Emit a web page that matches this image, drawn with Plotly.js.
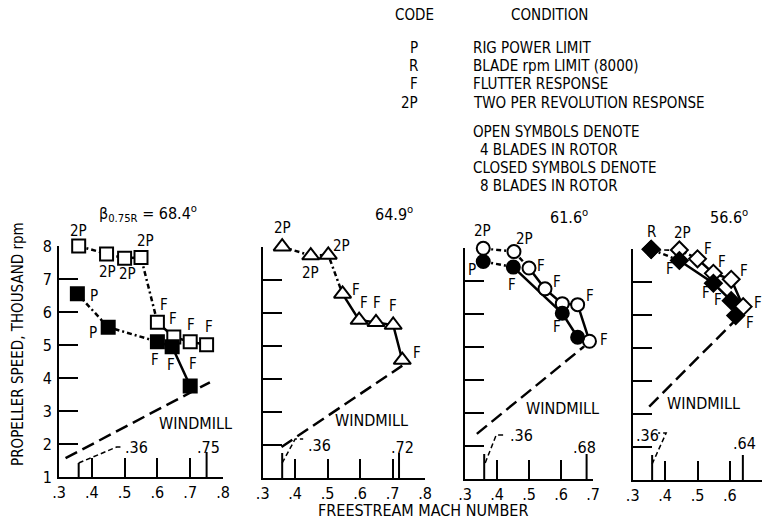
<!DOCTYPE html>
<html>
<head>
<meta charset="utf-8">
<script src="https://cdn.plot.ly/plotly-3.0.1.min.js"></script>
<style>
  html, body { margin: 0; padding: 0; background: #fff; }
  #chart { width: 768px; height: 524px; }
</style>
</head>
<body>
<div id="chart"></div>
<script>
// ---- axis ticks ----
const machTicksWide = [0.3, 0.4, 0.5, 0.6, 0.7, 0.8];
const machLabelsWide = ['.3', '.4', '.5', '.6', '.7', '.8'];
const machTicksNarrow = [0.3, 0.4, 0.5, 0.6, 0.7];
const machLabelsNarrow = ['.3', '.4', '.5', '.6', '.7'];
const speedTicks = [1, 2, 3, 4, 5, 6, 7, 8];
const speedLabels = ['1', '2', '3', '4', '5', '6', '7', '8'];

// ---- blade angle at 0.75 radius for each panel ----
const bladeAngles = ['68.4', '64.9', '61.6', '56.6'];

// ---- panel 1 (68.4 deg), squares ----
const p1OpenMach = [0.36, 0.445, 0.50, 0.55, 0.60, 0.65, 0.70, 0.75];
const p1OpenRpm = [8.0, 7.76, 7.63, 7.65, 5.69, 5.24, 5.10, 5.01];
const p1OpenCode = ['2P', '2P', '2P', '2P', 'F', 'F', 'F', 'F'];
const p1ClosedMach = [0.356, 0.45, 0.60, 0.645, 0.70];
const p1ClosedRpm = [6.55, 5.54, 5.10, 4.95, 3.76];
const p1ClosedCode = ['P', 'P', 'F', 'F', 'F'];
const p1WindmillMach = [0.32, 0.76];
const p1WindmillRpm = [1.57, 3.87];
const p1WindmillLimits = [0.36, 0.75];

// ---- panel 2 (64.9 deg), triangles ----
const p2OpenMach = [0.36, 0.448, 0.502, 0.546, 0.597, 0.649, 0.702, 0.73];
const p2OpenRpm = [8.0, 7.73, 7.75, 6.57, 5.78, 5.71, 5.63, 4.57];
const p2OpenCode = ['2P', '2P', '2P', 'F', 'F', 'F', 'F', 'F'];
const p2ClosedMach = [];
const p2ClosedRpm = [];
const p2ClosedCode = [];
const p2WindmillMach = [0.358, 0.73];
const p2WindmillRpm = [1.94, 4.40];
const p2WindmillLimits = [0.36, 0.72];

// ---- panel 3 (61.6 deg), circles ----
const p3OpenMach = [0.357, 0.453, 0.50, 0.55, 0.604, 0.652, 0.689];
const p3OpenRpm = [8.0, 7.9, 7.4, 6.77, 6.32, 6.29, 5.18];
const p3OpenCode = ['2P', '2P', 'F', 'F', '', 'F', 'F'];
const p3ClosedMach = [0.357, 0.451, 0.604, 0.652];
const p3ClosedRpm = [7.6, 7.43, 6.03, 5.30];
const p3ClosedCode = ['P', 'F', 'F', ''];
const p3WindmillMach = [0.337, 0.672];
const p3WindmillRpm = [2.37, 5.02];
const p3WindmillLimits = [0.36, 0.68];

// ---- panel 4 (56.6 deg), diamonds ----
const p4OpenMach = [0.357, 0.444, 0.50, 0.549, 0.604, 0.641];
const p4OpenRpm = [8.0, 7.98, 7.71, 7.27, 7.09, 6.26];
const p4OpenCode = ['R', '2P', 'F', 'F', 'F', 'F'];
const p4ClosedMach = [0.357, 0.444, 0.549, 0.604, 0.618];
const p4ClosedRpm = [8.0, 7.66, 6.97, 6.44, 5.99];
const p4ClosedCode = ['R', 'F', 'F', 'F', 'F'];
const p4WindmillMach = [0.351, 0.618];
const p4WindmillRpm = [3.23, 5.86];
const p4WindmillLimits = [0.36, 0.64];

// ---- legend text ----
const legendCodes = ['P', 'R', 'F', '2P'];
const legendConditions = ['RIG POWER LIMIT', 'BLADE rpm LIMIT (8000)', 'FLUTTER RESPONSE', 'TWO PER REVOLUTION RESPONSE'];
const legendNotes = ['OPEN SYMBOLS DENOTE', '  4 BLADES IN ROTOR', 'CLOSED SYMBOLS DENOTE', '  8 BLADES IN ROTOR'];

// ================= drawing =================
const W = 768, H = 524;
const FONT = 'Liberation Sans Narrow, Arial Narrow, DejaVu Sans Condensed, sans-serif';
const INK = '#000';
const px = v => v / W;          // horizontal pixel -> paper
const py = v => (H - v) / H;    // vertical pixel (from top) -> paper

// codes whose outgoing connector is drawn dotted
const LEAD_CODES = ['P', '2P', 'R'];

// label offsets (pixels: right, down) for each point's code label
const labelShift = {
  p1Open: [[0, -15], [1, 18], [3, 16], [4, -17], [7, -17], [-1, -18], [1, -17], [2, -18]],
  p1Closed: [[17, 2], [-15, 6], [-2, 18], [-1, 18], [3, -22]],
  p2Open: [[0, -19], [0, 17], [13, -9], [13, -4], [5, -17], [1, -19], [0, -19], [15, -7]],
  p2Closed: [],
  p3Open: [[-1, -17], [11, -13], [12, -2], [12, -7], [0, 0], [12, -9], [15, -1]],
  p3Closed: [[-11, 9], [-1, 18], [-5, 14], [0, 0]],
  p4Open: [[0, -17], [3, -17], [10, -10], [9, -11], [13, -8], [15, -4]],
  p4Closed: [[0, -17], [-9, 8], [-7, 10], [-13, -1], [14, 7]]
};

const panels = [
  { key: 'p1', symbol: 'square', size: 13,
    open: [p1OpenMach, p1OpenRpm, p1OpenCode], closed: [p1ClosedMach, p1ClosedRpm, p1ClosedCode],
    windmill: [p1WindmillMach, p1WindmillRpm], limits: p1WindmillLimits,
    ticks: [machTicksWide, machLabelsWide], xRange: [0.3, 0.8],
    xPix: [59, 223], yPix: [246, 477],
    leader: 'M0,14 L38,30 L44,30', lowLabel: [58, 30], highLabel: [1.5, 30], lowTick: 14,
    windmillText: [195, 423] },
  { key: 'p2', symbol: 'triangle-up', size: 15,
    open: [p2OpenMach, p2OpenRpm, p2OpenCode], closed: [p2ClosedMach, p2ClosedRpm, p2ClosedCode],
    windmill: [p2WindmillMach, p2WindmillRpm], limits: p2WindmillLimits,
    ticks: [machTicksWide, machLabelsWide], xRange: [0.3, 0.8],
    xPix: [262.7, 425], yPix: [246.7, 478],
    leader: 'M0,15 L13,39 L21,39', lowLabel: [37, 33], highLabel: [3, 31], lowTick: 25,
    windmillText: [371, 420] },
  { key: 'p3', symbol: 'circle', size: 13,
    open: [p3OpenMach, p3OpenRpm, p3OpenCode], closed: [p3ClosedMach, p3ClosedRpm, p3ClosedCode],
    windmill: [p3WindmillMach, p3WindmillRpm], limits: p3WindmillLimits,
    ticks: [machTicksNarrow, machLabelsNarrow], xRange: [0.3, 0.7],
    xPix: [465, 593], yPix: [248.3, 479],
    leader: 'M1,16 L12,44 L21,44', lowLabel: [37, 44], highLabel: [-2, 32], lowTick: 25,
    windmillText: [562, 408] },
  { key: 'p4', symbol: 'diamond', size: 13,
    open: [p4OpenMach, p4OpenRpm, p4OpenCode], closed: [p4ClosedMach, p4ClosedRpm, p4ClosedCode],
    windmill: [p4WindmillMach, p4WindmillRpm], limits: p4WindmillLimits,
    ticks: [machTicksNarrow, machLabelsNarrow], xRange: [0.3, 0.7],
    xPix: [632.7, 762.3], yPix: [249.3, 480],
    leader: 'M0,16 L14,47 L6,47', lowLabel: [-5, 45], highLabel: [2, 37], lowTick: 25,
    windmillText: [703, 403] }
];

const titlePos = [[97, 213], [373, 214], [548, 216], [708, 216]];

const traces = [];
const layout = {
  width: W, height: H,
  margin: { l: 0, r: 0, t: 0, b: 0 },
  paper_bgcolor: '#fff', plot_bgcolor: 'rgba(0,0,0,0)',
  showlegend: false,
  font: { family: FONT, color: INK, size: 15 },
  annotations: [], shapes: []
};

// free text placed by its centre (or a chosen horizontal anchor) in page pixels
function pageText(x, y, text, size, xanchor, extra) {
  return Object.assign({
    xref: 'paper', yref: 'paper', x: px(x), y: py(y),
    xanchor: xanchor || 'center', yanchor: 'middle',
    text: text, showarrow: false,
    font: { family: FONT, size: size, color: INK }
  }, extra || {});
}

function connectorTraces(mach, rpm, code, xa, ya) {
  const groups = [];
  let cur = null;
  for (let i = 0; i < mach.length - 1; i++) {
    const dotted = LEAD_CODES.includes(code[i]);
    if (!cur || cur.dotted !== dotted) {
      cur = { dotted, x: [mach[i]], y: [rpm[i]] };
      groups.push(cur);
    }
    cur.x.push(mach[i + 1]);
    cur.y.push(rpm[i + 1]);
  }
  return groups.map(g => ({
    type: 'scatter', mode: 'lines', x: g.x, y: g.y, xaxis: xa, yaxis: ya,
    cliponaxis: false, hoverinfo: 'skip',
    line: { color: INK, width: 2.5, dash: g.dotted ? '5px,3px,2px,3px' : 'solid' }
  }));
}

panels.forEach((p, k) => {
  const n = k === 0 ? '' : String(k + 1);
  const xa = 'x' + n, ya = 'y' + n;
  const xKey = 'xaxis' + n, yKey = 'yaxis' + n;

  layout[xKey] = {
    domain: [px(p.xPix[0]), px(p.xPix[1])], range: p.xRange, anchor: ya,
    showline: true, linewidth: 2, linecolor: INK, mirror: false,
    ticks: 'inside', ticklen: 19, tickwidth: 2, tickcolor: INK,
    tickmode: 'array', tickvals: p.ticks[0], ticktext: p.ticks[1],
    tickfont: { family: FONT, size: 16, color: INK },
    showgrid: false, zeroline: false, fixedrange: true
  };
  layout[yKey] = {
    domain: [py(p.yPix[1]), py(p.yPix[0])], range: [1, 8], anchor: xa,
    showline: true, linewidth: 2, linecolor: INK,
    ticks: 'inside', ticklen: 19, tickwidth: 2, tickcolor: INK,
    tickmode: 'array', tickvals: speedTicks, ticktext: speedLabels,
    showticklabels: k === 0, ticklabelstandoff: 2,
    tickfont: { family: FONT, size: 16, color: INK },
    showgrid: false, zeroline: false, fixedrange: true
  };

  // windmill line
  traces.push({
    type: 'scatter', mode: 'lines', x: p.windmill[0], y: p.windmill[1], xaxis: xa, yaxis: ya,
    cliponaxis: false, hoverinfo: 'skip',
    line: { color: INK, width: 2.5, dash: '13px,6px' }
  });

  // connectors then markers (4 blades open, 8 blades closed)
  [['open', p.open], ['closed', p.closed]].forEach(([kind, s]) => {
    if (!s[0].length) return;
    connectorTraces(s[0], s[1], s[2], xa, ya).forEach(t => traces.push(t));
  });
  [['open', p.open], ['closed', p.closed]].forEach(([kind, s]) => {
    if (!s[0].length) return;
    traces.push({
      type: 'scatter', mode: 'markers', x: s[0], y: s[1], xaxis: xa, yaxis: ya,
      cliponaxis: false, hoverinfo: 'skip',
      marker: {
        symbol: p.symbol, size: p.size,
        color: kind === 'open' ? '#fff' : INK,
        line: { color: INK, width: 2 }
      }
    });
  });

  // code labels beside the points
  const seen = new Set();
  [['Open', p.open], ['Closed', p.closed]].forEach(([kind, s]) => {
    const shifts = labelShift[p.key + kind];
    s[2].forEach((c, i) => {
      if (!c) return;
      const id = s[0][i] + '|' + s[1][i] + '|' + c;
      if (seen.has(id)) return;
      seen.add(id);
      layout.annotations.push({
        xref: xa, yref: ya, x: s[0][i], y: s[1][i], text: c, showarrow: false,
        xanchor: 'center', yanchor: 'middle',
        xshift: shifts[i][0], yshift: -shifts[i][1],
        font: { family: FONT, size: 15, color: INK }
      });
    });
  });

  // windmill Mach-number limit ticks and labels
  p.limits.forEach((m, j) => {
    layout.shapes.push({
      type: 'line', xref: xa, yref: ya, x0: m, x1: m,
      ysizemode: 'pixel', yanchor: 1, y0: 0, y1: j === 0 ? p.lowTick : 25,
      line: { color: INK, width: 2 }
    });
    const sh = j === 0 ? p.lowLabel : p.highLabel;
    layout.annotations.push({
      xref: xa, yref: ya, x: m, y: 1, text: '.' + String(Math.round(m * 100)),
      showarrow: false, xanchor: 'center', yanchor: 'middle',
      xshift: sh[0], yshift: sh[1],
      font: { family: FONT, size: 16, color: INK }
    });
  });
  layout.shapes.push({
    type: 'path', xref: xa, yref: ya,
    xsizemode: 'pixel', xanchor: p.limits[0], ysizemode: 'pixel', yanchor: 1,
    path: p.leader, line: { color: INK, width: 1.5, dash: '5px,3px' }
  });

  layout.annotations.push(pageText(p.windmillText[0], p.windmillText[1], 'WINDMILL', 16));

  const t = k === 0
    ? 'β<sub>0.75R</sub> = ' + bladeAngles[k] + '<sup>o</sup>'
    : bladeAngles[k] + '<sup>o</sup>';
  layout.annotations.push(pageText(titlePos[k][0], titlePos[k][1], t, 16, 'left'));
});

// axis titles
layout.annotations.push(pageText(18, 344, 'PROPELLER SPEED, THOUSAND rpm', 15, 'center', { textangle: -90 }));
layout.annotations.push(pageText(423, 510, 'FREESTREAM MACH NUMBER', 16));

// code table
layout.annotations.push(pageText(414, 15, 'CODE', 15));
layout.annotations.push(pageText(549, 15, 'CONDITION', 15));
const codeRows = [48, 66, 84, 103];
legendCodes.forEach((c, i) => {
  layout.annotations.push(pageText(420, codeRows[i], c, 15, 'right'));
  layout.annotations.push(pageText(471, codeRows[i], legendConditions[i], 15, 'left'));
});
const noteRows = [132, 150, 168, 186];
legendNotes.forEach((s, i) => {
  const indent = s.startsWith('  ');
  layout.annotations.push(pageText(indent ? 478 : 471, noteRows[i], s.trim(), 15, 'left'));
});

Plotly.newPlot('chart', traces, layout, { staticPlot: true, displayModeBar: false });
</script>
</body>
</html>
